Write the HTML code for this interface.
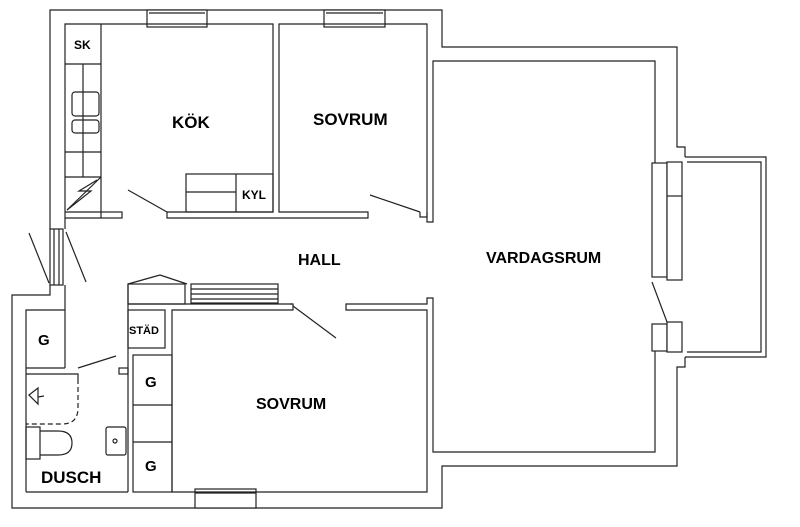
<!DOCTYPE html>
<html><head><meta charset="utf-8"><style>
html,body{margin:0;padding:0;background:#fff;width:800px;height:527px;overflow:hidden}
svg{display:block}
text{font-family:"Liberation Sans",Arial,sans-serif;fill:#000}
</style></head><body>
<svg width="800" height="527" viewBox="0 0 800 527" xmlns="http://www.w3.org/2000/svg">
<g fill="none" stroke="#222" stroke-width="1.2">
<polyline points="50,229 50,10 442,10 442,47 677,47 677,147 685,147 685,157"/>
<polyline points="685,357 685,367 677,367 677,466 442,466 442,508 12,508 12,295 50,295 50,285"/>
<rect x="147" y="10" width="60" height="17" fill="#fff"/>
<line x1="149" y1="13" x2="205" y2="13"/>
<rect x="324" y="10" width="61" height="17" fill="#fff"/>
<line x1="326" y1="13" x2="383" y2="13"/>
<rect x="195" y="489" width="61" height="19" fill="#fff"/>
<line x1="195" y1="493" x2="256" y2="493"/>
<polyline points="65,229 65,24 273,24 273,212 167,212 167,218 368,218 368,212 279,212 279,24 427,24 427,212"/>
<polyline points="65,212 101,212"/>
<rect x="101" y="212" width="21" height="6"/>
<line x1="65" y1="218" x2="101" y2="218"/>
<line x1="101" y1="24" x2="101" y2="212"/>
<line x1="65" y1="64" x2="101" y2="64"/>
<line x1="65" y1="152" x2="101" y2="152"/>
<line x1="65" y1="177" x2="101" y2="177"/>
<line x1="83" y1="64" x2="83" y2="177"/>
<rect x="72" y="92" width="27" height="24" rx="3"/>
<rect x="72" y="120" width="27" height="13" rx="3"/>
<polyline points="101,177 67,210"/>
<polyline points="97,180 79,191 91,191 67,210"/>
<rect x="186" y="174" width="87" height="38"/>
<line x1="236" y1="174" x2="236" y2="212"/>
<line x1="186" y1="192" x2="236" y2="192"/>
<line x1="128" y1="190" x2="167" y2="212"/>
<line x1="370" y1="195" x2="420" y2="212"/>
<polyline points="427,212 427,217 420,217 420,212"/>
<polyline points="427,212 427,222 433,222 433,61 655,61 655,163"/>
<rect x="50" y="229" width="13" height="56" fill="#fff"/>
<line x1="54" y1="229" x2="54" y2="285"/><line x1="59" y1="229" x2="59" y2="285"/>
<line x1="29" y1="233" x2="49" y2="283"/>
<line x1="66" y1="232" x2="86" y2="282"/>
<line x1="65" y1="285" x2="65" y2="368"/>
<polyline points="26,492 26,310 65,310"/>
<line x1="26" y1="368" x2="65" y2="368"/>
<polyline points="26,374 78,374 78,379"/>
<polyline points="26,492 128,492"/>
<line x1="78" y1="368" x2="116" y2="356"/>
<rect x="119" y="368" width="9" height="6"/>
<line x1="128" y1="284" x2="128" y2="492"/>
<path d="M78,379 V408 Q78,424 62,424 H26" stroke-dasharray="5,3"/>
<polygon points="29,395 38,388 38,404"/>
<line x1="38" y1="397" x2="44" y2="396"/>
<rect x="26" y="427" width="14" height="32"/>
<path d="M40,431 H58 Q72,431 72,443 Q72,455 58,455 H40"/>
<rect x="106" y="427" width="20" height="28" rx="2"/>
<circle cx="115" cy="441" r="2"/>
<rect x="128" y="284" width="57" height="20"/>
<polyline points="128,284 160,275"/><polyline points="187,284 160,275"/>
<rect x="128" y="310" width="37" height="38"/>
<line x1="128" y1="304" x2="292" y2="304"/>
<rect x="191" y="284" width="87" height="19"/>
<line x1="191" y1="289" x2="278" y2="289"/>
<line x1="191" y1="294" x2="278" y2="294"/>
<line x1="191" y1="299" x2="278" y2="299"/>
<polyline points="290,304 293,304 293,310 172,310 172,492 427,492 427,310 346,310 346,304 427,304 427,298 433,298 433,452 655,452 655,351"/>
<line x1="293" y1="306" x2="336" y2="338"/>
<rect x="133" y="355" width="39" height="137"/>
<line x1="133" y1="405" x2="172" y2="405"/>
<line x1="133" y1="442" x2="172" y2="442"/>
<rect x="652" y="163" width="15" height="114" fill="#fff"/>
<rect x="667" y="162" width="15" height="118" fill="#fff"/>
<line x1="667" y1="196" x2="682" y2="196"/>
<line x1="652" y1="282" x2="667" y2="322"/>
<rect x="652" y="324" width="15" height="27" fill="#fff"/>
<rect x="667" y="322" width="15" height="30" fill="#fff"/>
<polyline points="685,157 766,157 766,357 685,357"/>
<polyline points="687,162 761,162 761,352 687,352"/>
</g>
<g font-weight="bold">
<text x="74" y="49" font-size="12">SK</text>
<text x="172" y="128" font-size="17">KÖK</text>
<text x="313" y="125" font-size="17">SOVRUM</text>
<text x="242" y="199" font-size="12">KYL</text>
<text x="298" y="265" font-size="16">HALL</text>
<text x="486" y="263" font-size="16">VARDAGSRUM</text>
<text x="129" y="334" font-size="11">STÄD</text>
<text x="38" y="345" font-size="15">G</text>
<text x="145" y="387" font-size="15">G</text>
<text x="145" y="471" font-size="15">G</text>
<text x="256" y="409" font-size="16">SOVRUM</text>
<text x="41" y="483" font-size="17">DUSCH</text>
</g>
</svg>
</body></html>
